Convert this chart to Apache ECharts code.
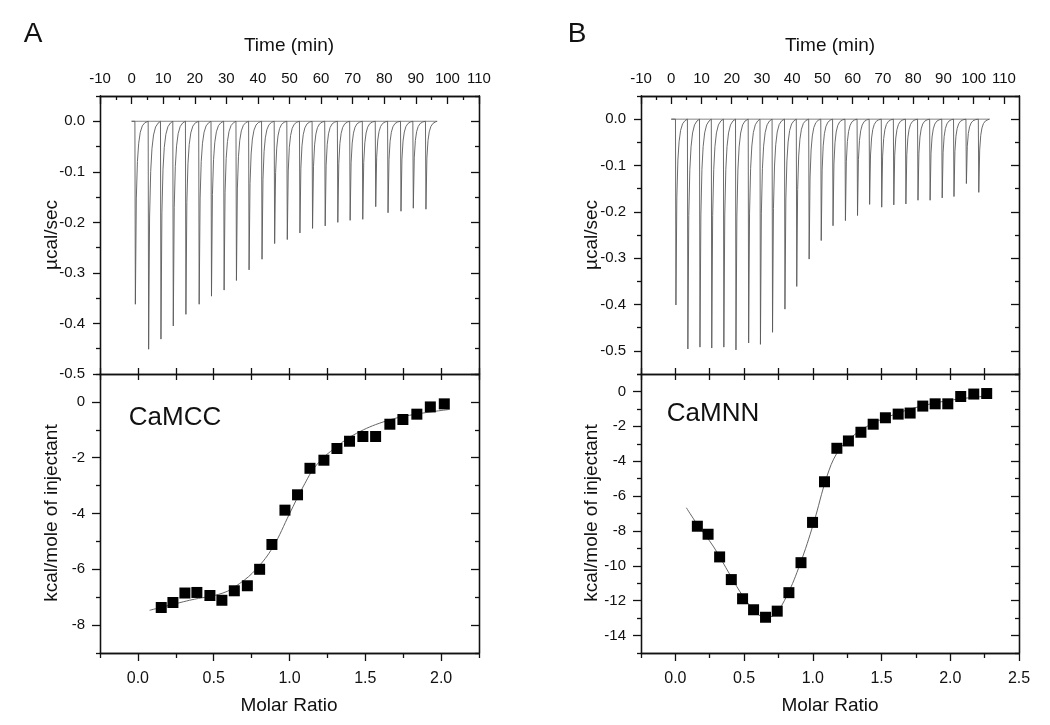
<!DOCTYPE html>
<html><head><meta charset="utf-8">
<script src="https://cdn.jsdelivr.net/npm/echarts@6/dist/echarts.min.js"></script>
<style>html,body{margin:0;padding:0;background:#fff}#c{width:1050px;height:725px}</style>
</head><body><div id="c"></div>
<script>
// ---------- Panel A (CaMCC) raw injections ----------
const peakTimesA = [1.2, 5.4, 9.3, 13.2, 17.2, 21.4, 25.3, 29.3, 33.2, 37.2, 41.3, 45.3, 49.3, 53.3, 57.3, 61.3, 65.3, 69.2, 73.2, 77.3, 81.2, 85.3, 89.2, 93.2];
const peakDepthsA = [-0.362, -0.451, -0.431, -0.405, -0.382, -0.362, -0.346, -0.334, -0.315, -0.294, -0.273, -0.242, -0.234, -0.221, -0.212, -0.207, -0.200, -0.196, -0.194, -0.169, -0.181, -0.178, -0.172, -0.174];
const traceEndA = 96.8;
// ---------- Panel B (CaMNN) raw injections ----------
const peakTimesB = [1.55, 5.5, 9.5, 13.4, 17.4, 21.4, 25.6, 29.5, 33.5, 37.6, 41.5, 45.6, 49.6, 53.5, 57.6, 61.6, 65.6, 69.6, 73.6, 77.6, 81.6, 85.6, 89.6, 93.5, 97.6, 101.7];
const peakDepthsB = [-0.401, -0.496, -0.492, -0.494, -0.492, -0.498, -0.483, -0.486, -0.460, -0.410, -0.361, -0.302, -0.262, -0.230, -0.219, -0.208, -0.184, -0.190, -0.185, -0.183, -0.175, -0.175, -0.170, -0.167, -0.139, -0.158];
const traceEndB = 105.3;
// shape of one injection peak: [minutes from peak, fraction of peak depth]
const recoveryProfile = [[-0.15, 0], [0, 1], [0.3, 0.42], [0.65, 0.22], [1.05, 0.12], [1.55, 0.06], [2.2, 0.025], [3.0, 0.008], [3.5, 0]];

// ---------- Integrated heats ----------
const molarA = [0.154, 0.231, 0.310, 0.389, 0.475, 0.554, 0.636, 0.722, 0.803, 0.884, 0.970, 1.053, 1.135, 1.227, 1.313, 1.396, 1.484, 1.568, 1.662, 1.748, 1.840, 1.929, 2.021];
const heatA = [-7.37, -7.19, -6.85, -6.83, -6.94, -7.11, -6.77, -6.59, -6.00, -5.11, -3.88, -3.33, -2.38, -2.09, -1.67, -1.41, -1.24, -1.24, -0.80, -0.63, -0.44, -0.18, -0.07];
const fitXA = [0.077, 0.341, 0.561, 0.671, 0.781, 0.891, 1.001, 1.089, 1.177, 1.309, 1.441, 1.617, 1.792, 2.056];
const fitYA = [-7.47, -7.11, -6.85, -6.51, -5.99, -5.20, -4.00, -3.05, -2.27, -1.61, -1.13, -0.72, -0.48, -0.27];

const molarB = [0.160, 0.238, 0.322, 0.407, 0.489, 0.569, 0.656, 0.741, 0.826, 0.914, 0.998, 1.085, 1.175, 1.259, 1.350, 1.439, 1.528, 1.621, 1.708, 1.800, 1.890, 1.982, 2.076, 2.171, 2.265];
const heatB = [-7.73, -8.19, -9.49, -10.79, -11.89, -12.52, -12.95, -12.60, -11.54, -9.82, -7.51, -5.18, -3.26, -2.84, -2.34, -1.88, -1.51, -1.30, -1.24, -0.84, -0.71, -0.71, -0.29, -0.15, -0.12];
const fitXB = [0.080, 0.158, 0.279, 0.400, 0.496, 0.594, 0.656, 0.727, 0.812, 0.908, 1.005, 1.102, 1.175, 1.259, 1.393, 1.586, 1.780, 2.022, 2.289];
const fitYB = [-6.67, -7.61, -8.92, -10.55, -11.79, -12.72, -12.98, -12.75, -11.70, -9.88, -7.57, -4.89, -3.54, -2.78, -2.01, -1.34, -0.86, -0.48, -0.25];

// ---------- Tick values / labels ----------
const timeMajor = [-10, 0, 10, 20, 30, 40, 50, 60, 70, 80, 90, 100, 110];
const timeMinor = [-5, 5, 15, 25, 35, 45, 55, 65, 75, 85, 95, 105];
const molarMajorA = [0, 0.5, 1.0, 1.5, 2.0];
const molarMinorA = [-0.25, 0.25, 0.75, 1.25, 1.75, 2.25];
const molarMajorB = [0, 0.5, 1.0, 1.5, 2.0, 2.5];
const molarMinorB = [-0.25, 0.25, 0.75, 1.25, 1.75, 2.25];
const rawMajor = [-0.5, -0.4, -0.3, -0.2, -0.1, 0.0];
const rawMinorA = [-0.45, -0.35, -0.25, -0.15, -0.05, 0.05];
const rawMinorB = [-0.55, -0.45, -0.35, -0.25, -0.15, -0.05, 0.05];
const heatMajorA = [-8, -6, -4, -2, 0];
const heatMinorA = [-9, -7, -5, -3, -1, 1];
const heatMajorB = [-14, -12, -10, -8, -6, -4, -2, 0];
const heatMinorB = [-15, -13, -11, -9, -7, -5, -3, -1, 1];

const FONT = "'Liberation Sans', Arial, Helvetica, sans-serif";
const NARROW = "'Liberation Sans Narrow', 'Liberation Sans', Arial, sans-serif";

function buildTrace(times, depths, endT) {
  const pts = [[0, 0]];
  for (let i = 0; i < times.length; i++) {
    for (const [dt, f] of recoveryProfile) pts.push([times[i] + dt, depths[i] * f]);
  }
  pts.push([endT, 0]);
  return pts;
}
const zip = (a, b) => a.map((v, i) => [v, b[i]]);

const xAxes = [], yAxes = [];
function ax(o) {
  return {
    type: 'value', gridIndex: o.g, position: o.pos, min: o.min, max: o.max,
    axisLine: { show: true, onZero: false, lineStyle: { color: '#111', width: 1.3 } },
    axisTick: { show: true, inside: !!o.inside, length: o.len, customValues: o.ticks, lineStyle: { color: '#111', width: 1.3 } },
    axisLabel: o.labels ? { show: true, customValues: o.labels, formatter: o.fmt, fontSize: o.fs || 15, margin: o.margin, color: '#111', fontFamily: o.ff || FONT } : { show: false },
    splitLine: { show: false }, minorTick: { show: false }, z: 5
  };
}
function addX(o) { xAxes.push(ax(o)); return xAxes.length - 1; }
function addY(o) { yAxes.push(ax(o)); return yAxes.length - 1; }
const f1 = v => v.toFixed(1);
const f0 = v => String(Math.round(v));

function panel(gTop, gBot, timeMax, minorTime, mMax, mMaj, mMin, rawMin, rawMinor, hMin, hMaj, hMinr) {
  const r = {};
  r.xt = addX({ g: gTop, pos: 'top', min: -10, max: timeMax, ticks: timeMajor, inside: true, len: 8, labels: timeMajor, fmt: f0, margin: 10 });
  addX({ g: gTop, pos: 'top', min: -10, max: timeMax, ticks: minorTime, inside: true, len: 4 });
  addX({ g: gTop, pos: 'bottom', min: -0.25, max: mMax, ticks: mMaj.concat(mMin), inside: true, len: 6 });
  r.xb = addX({ g: gBot, pos: 'bottom', min: -0.25, max: mMax, ticks: mMaj, inside: false, len: 8, labels: mMaj, fmt: f1, margin: 18, fs: 16, ff: NARROW });
  addX({ g: gBot, pos: 'bottom', min: -0.25, max: mMax, ticks: mMin, inside: false, len: 5 });
  addX({ g: gBot, pos: 'top', min: -0.25, max: mMax, ticks: mMaj.concat(mMin), inside: true, len: 6 });
  r.yt = addY({ g: gTop, pos: 'left', min: rawMin, max: 0.05, ticks: rawMajor, inside: false, len: 7, labels: rawMajor, fmt: f1, margin: 15 });
  addY({ g: gTop, pos: 'left', min: rawMin, max: 0.05, ticks: rawMinor, inside: false, len: 4 });
  addY({ g: gTop, pos: 'right', min: rawMin, max: 0.05, ticks: rawMajor, inside: true, len: 8 });
  addY({ g: gTop, pos: 'right', min: rawMin, max: 0.05, ticks: rawMinor, inside: true, len: 4 });
  r.yb = addY({ g: gBot, pos: 'left', min: hMin, max: 1, ticks: hMaj, inside: false, len: 8, labels: hMaj, fmt: f0, margin: 15 });
  addY({ g: gBot, pos: 'left', min: hMin, max: 1, ticks: hMinr, inside: false, len: 4 });
  addY({ g: gBot, pos: 'right', min: hMin, max: 1, ticks: hMaj, inside: true, len: 8 });
  addY({ g: gBot, pos: 'right', min: hMin, max: 1, ticks: hMinr, inside: true, len: 4 });
  return r;
}
const pA = panel(0, 1, 110, timeMinor, 2.25, molarMajorA, molarMinorA, -0.5, rawMinorA, -9, heatMajorA, heatMinorA);
const pB = panel(2, 3, 115, timeMinor, 2.5, molarMajorB, molarMinorB, -0.55, rawMinorB, -15, heatMajorB, heatMinorB);

const traceStyle = { color: '#5a5a5a', width: 0.9 };
function seriesFor(p, times, depths, endT, mx, hy, fx, fy) {
  return [
    { type: 'line', xAxisIndex: p.xt, yAxisIndex: p.yt, data: [[0, 0], [endT, 0]], showSymbol: false, lineStyle: { color: '#777', width: 0.9 }, silent: true },
    { type: 'line', xAxisIndex: p.xt, yAxisIndex: p.yt, data: buildTrace(times, depths, endT), showSymbol: false, lineStyle: traceStyle, silent: true },
    { type: 'line', xAxisIndex: p.xb, yAxisIndex: p.yb, data: zip(fx, fy), smooth: 0.4, showSymbol: false, lineStyle: { color: '#666', width: 1 }, silent: true },
    { type: 'scatter', xAxisIndex: p.xb, yAxisIndex: p.yb, data: zip(mx, hy), symbol: 'rect', symbolSize: 11, itemStyle: { color: '#000', opacity: 1 }, z: 4, silent: true }
  ];
}

function txt(x, y, s, size, rot) {
  return { type: 'text', x: x, y: y, rotation: rot || 0, style: { text: s, fill: '#111', font: size + 'px ' + FONT, textAlign: 'center', textVerticalAlign: 'middle' }, z: 10 };
}

const chart = echarts.init(document.getElementById('c'), null, { renderer: 'canvas' });
chart.setOption({
  animation: false,
  backgroundColor: '#fff',
  grid: [
    { left: 100, top: 96, width: 379, height: 278 },
    { left: 100, top: 374, width: 379, height: 279 },
    { left: 641, top: 96, width: 378, height: 278 },
    { left: 641, top: 374, width: 378, height: 279 }
  ],
  xAxis: xAxes,
  yAxis: yAxes,
  series: [].concat(
    seriesFor(pA, peakTimesA, peakDepthsA, traceEndA, molarA, heatA, fitXA, fitYA),
    seriesFor(pB, peakTimesB, peakDepthsB, traceEndB, molarB, heatB, fitXB, fitYB)
  ),
  graphic: [
    txt(33, 34, 'A', 28), txt(577, 34, 'B', 28),
    txt(289, 46, 'Time (min)', 19), txt(830, 46, 'Time (min)', 19),
    txt(289, 706, 'Molar Ratio', 19), txt(830, 706, 'Molar Ratio', 19),
    txt(52, 235, 'µcal/sec', 19, Math.PI / 2), txt(592, 235, 'µcal/sec', 19, Math.PI / 2),
    txt(52, 513, 'kcal/mole of injectant', 19, Math.PI / 2), txt(592, 513, 'kcal/mole of injectant', 19, Math.PI / 2),
    txt(175, 418, 'CaMCC', 26), txt(713, 414, 'CaMNN', 26)
  ]
});
</script></body></html>
